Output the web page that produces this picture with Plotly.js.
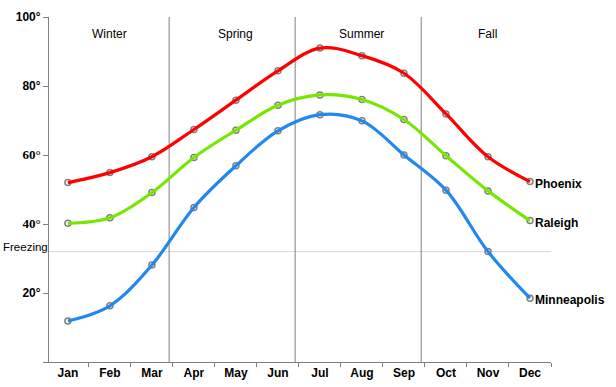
<!DOCTYPE html>
<html>
<head>
<meta charset="utf-8">
<script src="https://cdn.plot.ly/plotly-3.0.1.min.js"></script>
<style>
html,body{margin:0;padding:0;background:#fff;}
#chart{width:616px;height:387px;}
</style>
</head>
<body>
<div id="chart"></div>
<script>
const months = ['Jan','Feb','Mar','Apr','May','Jun','Jul','Aug','Sep','Oct','Nov','Dec'];
const phoenix = [52.0, 54.9, 59.5, 67.4, 75.9, 84.4, 91.0, 88.8, 83.7, 71.9, 59.5, 52.3];
const raleigh = [40.2, 41.8, 49.1, 59.3, 67.2, 74.4, 77.4, 76.1, 70.3, 59.8, 49.6, 41.0];
const minneapolis = [11.9, 16.3, 28.1, 44.8, 56.9, 67.0, 71.7, 69.9, 60.0, 49.8, 32.0, 18.5];
const seriesNames = ['Phoenix', 'Raleigh', 'Minneapolis'];
const seriesColors = ['#ff0000', '#77e600', '#2288ee'];
const seasons = ['Winter', 'Spring', 'Summer', 'Fall'];
const seasonLabelMonths = ['Feb', 'May', 'Aug', 'Nov'];
const seasonDividers = [2.41, 5.41, 8.41];
const freezing = 32;
const yTickVals = [0, 20, 40, 60, 80, 100];
const yTickText = ['', '20°',
  '<span style="font-family:\'Liberation Serif\',serif;font-size:13px">40°</span>',
  '<span style="font-family:\'Liberation Serif\',serif;font-size:13px">60°</span>',
  '80°', '100°'];

const seriesData = [phoenix, raleigh, minneapolis];
const traces = [];
seriesData.forEach((vals, i) => {
  traces.push({
    x: months, y: vals, type: 'scatter', mode: 'markers',
    marker: {symbol: 'circle-open', size: 6, color: '#808080', line: {width: 1.5, color: '#808080'}},
    hoverinfo: 'skip', showlegend: false
  });
});
seriesData.forEach((vals, i) => {
  traces.push({
    x: months, y: vals, type: 'scatter', mode: 'lines',
    line: {shape: 'spline', smoothing: 1, width: 3.2, color: seriesColors[i]},
    hoverinfo: 'skip', showlegend: false
  });
});

const shapes = seasonDividers.map(d => ({
  type: 'line', xref: 'x', yref: 'y', x0: d, x1: d, y0: 0, y1: 100,
  line: {color: '#808080', width: 1}, layer: 'below'
}));
shapes.push({
  type: 'line', xref: 'paper', yref: 'y', x0: 0, x1: 1, y0: freezing, y1: freezing,
  line: {color: '#d8d8d8', width: 1}, layer: 'below'
});

const annotations = [];
seasons.forEach((s, i) => {
  annotations.push({
    x: seasonLabelMonths[i], y: 95, xref: 'x', yref: 'y', text: s, showarrow: false,
    font: {family: 'Liberation Sans, Arial, sans-serif', size: 12, color: '#000'}
  });
});
seriesNames.forEach((n, i) => {
  const vals = seriesData[i];
  annotations.push({
    x: months[months.length - 1], y: vals[vals.length - 1], xref: 'x', yref: 'y',
    text: '<b>' + n + '</b>', showarrow: false, xanchor: 'left', xshift: 3, yshift: -2,
    font: {family: 'Liberation Sans, Arial, sans-serif', size: 12, color: '#000'}
  });
});
annotations.push({
  x: 0, y: freezing, xref: 'paper', yref: 'y', text: 'Freezing', showarrow: false,
  xanchor: 'right', xshift: 1, yshift: 5,
  font: {family: 'Liberation Sans, Arial, sans-serif', size: 11.5, color: '#000'}
});

const layout = {
  width: 616, height: 387,
  margin: {l: 49, r: 65, t: 17, b: 25, pad: 0},
  paper_bgcolor: '#fff', plot_bgcolor: '#fff',
  showlegend: false,
  font: {family: 'Liberation Sans, Arial, sans-serif', size: 12, color: '#000'},
  xaxis: {
    type: 'category', range: [-0.45, 11.5], showgrid: false, zeroline: false,
    showline: true, linecolor: '#808080', linewidth: 1,
    ticks: 'outside', tickson: 'boundaries', ticklen: 4, tickcolor: '#808080', tickwidth: 1,
    tickfont: {family: 'Liberation Sans, Arial, sans-serif', size: 12, color: '#000', weight: 'bold'}
  },
  yaxis: {
    range: [0, 100], showgrid: false, zeroline: false,
    showline: true, linecolor: '#808080', linewidth: 1,
    ticks: 'outside', ticklen: 5, tickcolor: '#808080', tickwidth: 1,
    tickvals: yTickVals, ticktext: yTickText,
    tickfont: {family: 'Liberation Sans, Arial, sans-serif', size: 12, color: '#000', weight: 'bold'}
  },
  shapes: shapes,
  annotations: annotations,
  hovermode: false
};

Plotly.newPlot('chart', traces, layout, {displayModeBar: false, staticPlot: true});
</script>
</body>
</html>
